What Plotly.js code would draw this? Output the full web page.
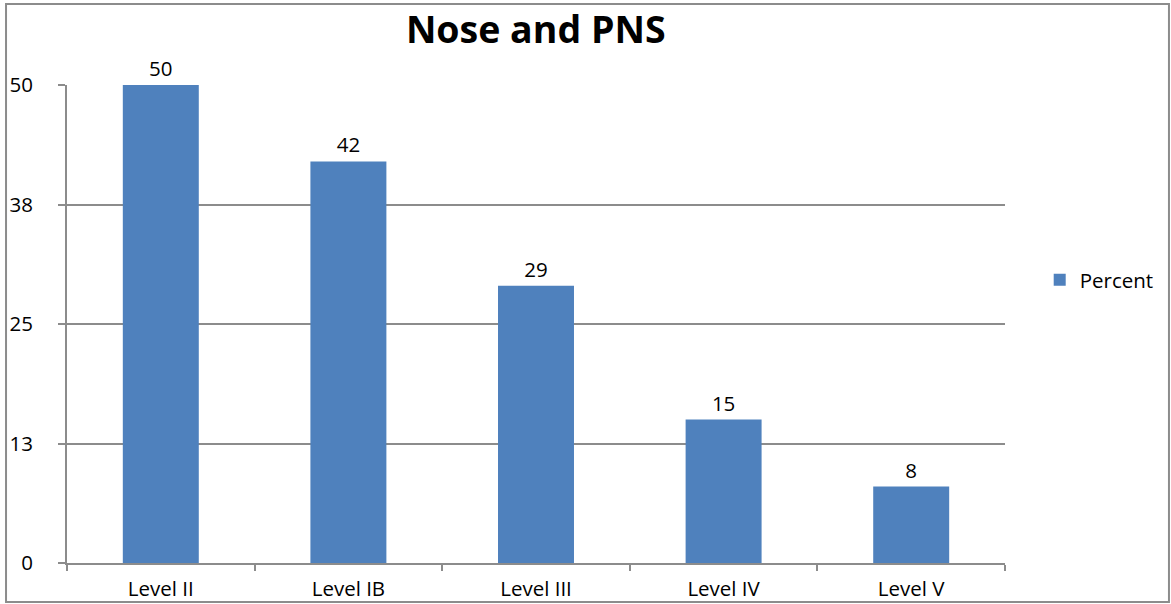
<!DOCTYPE html>
<html>
<head>
<meta charset="utf-8">
<script src="https://cdn.plot.ly/plotly-3.0.1.min.js"></script>
<style>
html,body{margin:0;padding:0;background:#fff;}
#chart{width:1171px;height:604px;}
</style>
</head>
<body>
<div id="chart"></div>
<script>
const categories = ["Level II", "Level IB", "Level III", "Level IV", "Level V"];
const percentValues = [50, 42, 29, 15, 8];
const yTickValues = [0, 12.5, 25, 37.5, 50];
const yTickLabels = ["0", "13", "25", "38", "50"];
const seriesName = "Percent";
const chartTitle = "Nose and PNS";

const fontFamily = "'Open Sans', 'Noto Sans', sans-serif";
const gridGrey = "#8c8c8c";
const labelSize = 20.5;

const trace = {
  type: "bar",
  x: categories,
  y: percentValues,
  name: seriesName,
  marker: {color: "#4f81bd"},
  width: 0.405,
  text: percentValues.map(String),
  textposition: "outside",
  textfont: {family: fontFamily, size: labelSize, color: "#000"},
  cliponaxis: false,
  showlegend: true,
  hoverinfo: "x+y"
};

const layout = {
  width: 1171,
  height: 604,
  margin: {l: 67, r: 166, t: 85, b: 41},
  paper_bgcolor: "#fff",
  plot_bgcolor: "#fff",
  font: {family: fontFamily, size: labelSize, color: "#000"},
  title: {
    text: "<b>" + chartTitle + "</b>",
    font: {family: fontFamily, size: 37.5, color: "#000"},
    x: 0.4575, xanchor: "center",
    y: 0.95, yanchor: "middle"
  },
  bargap: 0.595,
  xaxis: {
    type: "category",
    showline: true, linecolor: gridGrey, linewidth: 2,
    ticks: "outside", tickson: "boundaries", ticklen: 6, tickwidth: 2, tickcolor: gridGrey,
    showgrid: false,
    ticklabelstandoff: 6,
    tickfont: {family: fontFamily, size: labelSize, color: "#000"},
    fixedrange: true
  },
  yaxis: {
    range: [0, 50],
    tickvals: yTickValues,
    ticktext: yTickLabels,
    showline: true, linecolor: gridGrey, linewidth: 2,
    ticks: "outside", ticklen: 7, tickwidth: 2, tickcolor: gridGrey,
    showgrid: true, gridcolor: gridGrey, gridwidth: 2,
    zeroline: false,
    ticklabelstandoff: 21,
    tickfont: {family: fontFamily, size: labelSize, color: "#000"},
    fixedrange: true
  },
  legend: {
    x: 1.037, xanchor: "left",
    y: 0.592, yanchor: "middle",
    font: {family: fontFamily, size: labelSize, color: "#000"},
    bgcolor: "rgba(0,0,0,0)",
    itemwidth: 30
  },
  shapes: [{
    type: "rect", xref: "paper", yref: "paper",
    x0: -0.065, x1: 1.1748, y0: -0.0816, y1: 1.1695,
    line: {color: gridGrey, width: 2},
    fillcolor: "rgba(0,0,0,0)",
    layer: "below"
  }]
};

Plotly.newPlot("chart", [trace], layout, {displayModeBar: false, staticPlot: true});
</script>
</body>
</html>
